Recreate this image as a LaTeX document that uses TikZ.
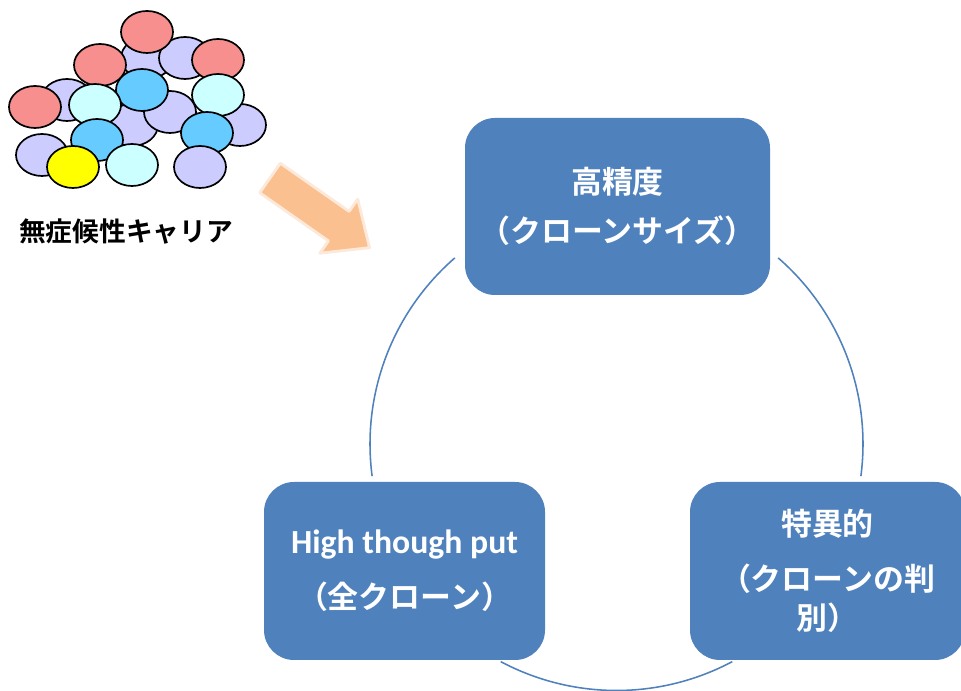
\documentclass[tikz,border=0pt]{standalone}
\usepackage{fontspec}
\newfontfamily\jpfont{Noto Sans CJK JP}[BoldFont={Noto Sans CJK JP Bold}]
\newfontfamily\latinfont{Carlito}
\definecolor{boxblue}{HTML}{4F81BD}
\definecolor{cellred}{HTML}{F78F8F}
\definecolor{celllav}{HTML}{CCCCFF}
\definecolor{cellcyan}{HTML}{CCFFFF}
\definecolor{cellblue}{HTML}{66CCFF}
\definecolor{cellyellow}{HTML}{FFFF00}
\definecolor{arrowfill}{HTML}{FAC090}
\definecolor{arrowglow}{HTML}{FDE9D9}

\begin{document}
\begin{tikzpicture}[x = 0.25mm, y = 0.25mm,
    cell/.style = { draw = black, line width = 1.2pt },
    stage/.style = { fill = boxblue, rounded corners = 7.5mm, text = white, align = center,
      minimum height = 44.5mm, inner sep = 0pt,
      font = \jpfont\bfseries\fontsize{22}{28}\selectfont },
    cycle line/.style = { draw = boxblue, line width = 1.1pt }]
  \useasboundingbox (0,0) rectangle (961,691);
  \fill[white] (0,0) rectangle (961,691);

  % cells
  \foreach \c/\x/\y in {celllav/147/633, celllav/185/633, cellred/147/659, cellred/218/631,
      cellred/100/626, celllav/67/591, cellred/35/584, celllav/132/566, celllav/170/579,
      cellblue/142/601, cellcyan/95/586, celllav/240/566, cellcyan/218/596, cellblue/207/558,
      celllav/200/524, celllav/42/536, cellblue/97/551, cellyellow/73/524, cellcyan/132/526}
    \draw[cell, fill = \c] (\x,\y) ellipse [x radius = 26, y radius = 21];
  \node[font = \jpfont\bfseries\fontsize{19}{23}\selectfont] (carrier) at (126,459) {無症候性キャリア};

  \begin{scope}[shift = {(270,513)}, rotate = -35]
    \draw[fill = arrowfill, draw = arrowglow, line width = 2pt, line join = round]
      (0,18) -- (84,18) -- (84,33) -- (121.5,0) -- (84,-33) -- (84,-18) -- (0,-18) -- cycle;
  \end{scope}

  \coordinate (hub) at (616.5,247);
  \draw[cycle line] ([shift = {(49:246.5)}]hub) arc [start angle = 49, end angle = -7.5, radius = 246.5];
  \draw[cycle line] ([shift = {(-62:246.5)}]hub) arc [start angle = -62, end angle = -118, radius = 246.5];
  \draw[cycle line] ([shift = {(187.5:246.5)}]hub) arc [start angle = 187.5, end angle = 131, radius = 246.5];

  \node[stage, minimum width = 76.25mm, minimum height = 44.25mm] (precision) at (617.5,484.5)
    { 高精度 \\[7pt] （クローンサイズ） };
  \node[stage, minimum width = 70.25mm] (throughput) at (404.5,120)
    { {\latinfont\fontsize{24}{28}\selectfont High though put} \\[11pt] （全クローン） };
  \node[stage, minimum width = 68.75mm] (specific) at (827.5,120)
    { 特異的 \\[11pt] （クローンの判 \\ 別） };
\end{tikzpicture}
\end{document}
